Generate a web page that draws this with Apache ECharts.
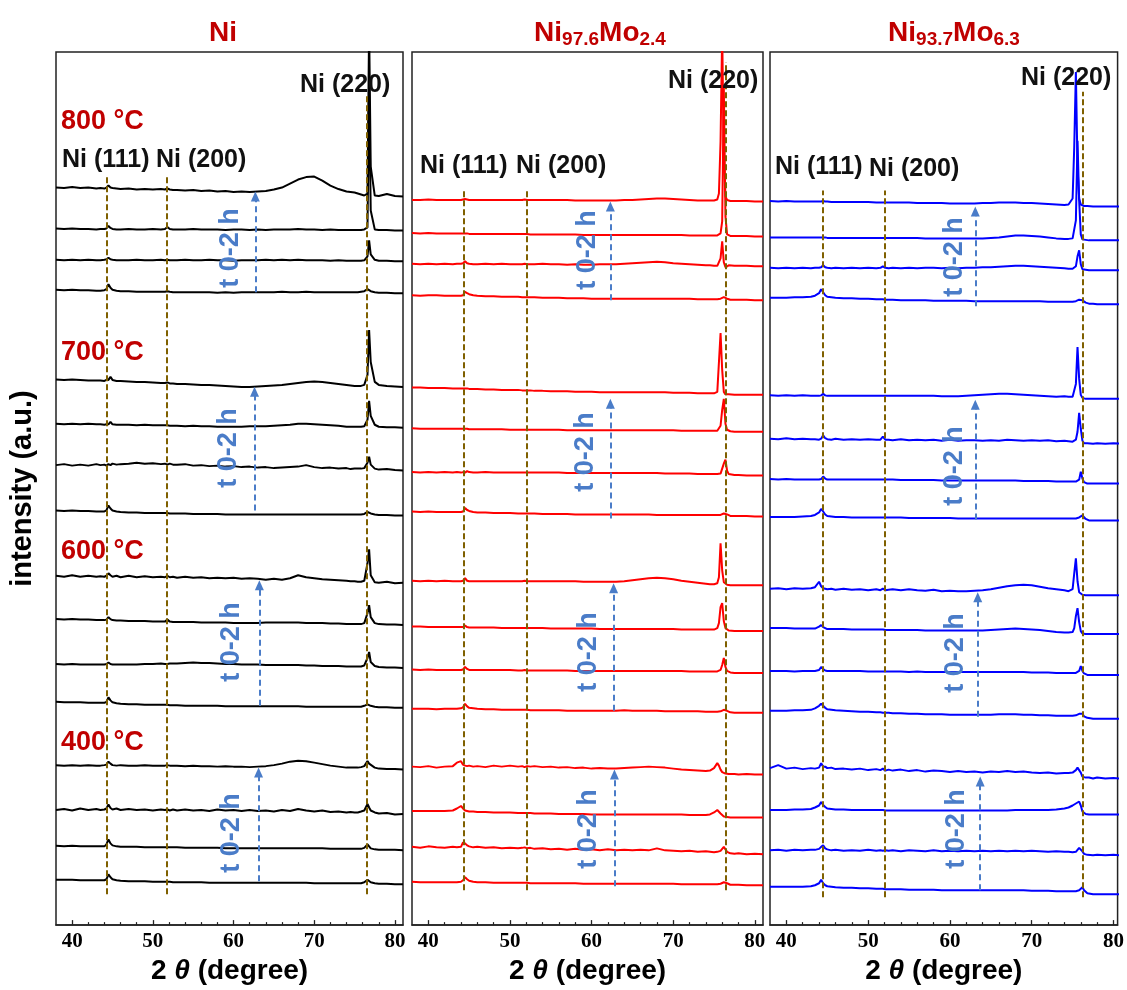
<!DOCTYPE html>
<html><head><meta charset="utf-8">
<script src="https://cdn.jsdelivr.net/npm/echarts@6/dist/echarts.min.js"></script>
<style>html,body{margin:0;padding:0;background:#fff}#c{width:1127px;height:990px}</style>
</head><body><div id="c"></div>
<script>
// ---------------- DATA ----------------
// 2θ sampling grid (degree)
const twoTheta = [38,39,40,41,42,43, 43.5,44,44.25,44.5,44.75,45,45.5, 46,47,48,49,50,51, 51.5,51.8,52.1,52.5, 53,54,55,56,57,58,59,60,61,62, 63,64,65,66,67,68,69,70,71,72,73,74, 74.5,75,75.2,75.4,75.6,75.8,76,76.2,76.4,76.6,76.8,77,77.5, 78,79,80,81];
const tickLabels = [40,50,60,70,80];
const minorTicks = [42,44,46,48,52,54,56,58,62,64,66,68,72,74,76,78];
const temps = ['800 °C','700 °C','600 °C','400 °C'];
const peakNames = ['Ni (111)','Ni (200)','Ni (220)'];

// reference peak positions (2θ) per sample
const refNi = [44.3, 51.7, 76.5];
const refMo24 = [44.3, 52.1, 76.4];
const refMo63 = [44.4, 52.0, 76.3];

// vertical stacking offsets (a.u.), top trace first
const offNi   = [731,697,666,634, 540,499,456,411, 343,301,258,218, 156,111,75,41];
const offMo24 = [726,691,661,627, 532,495,451,410, 341,295,253,213, 151,108,71,40];
const offMo63 = [721,687,657,623, 528,483,443,406, 331,292,251,207, 147,111,70,31];

// intensities (a.u.), each temperature: 4 scans, top (2 h) to bottom (0 h)
const ni_800 = [
[9,8.5,9.5,8.5,9,8, 8.5,8,9,11,9,8.5,8, 7.5,8,7,7.5,7,7.5, 7,8,7,6.5, 6.5,6,6.5,5.5,6,5,5.5,4.5,5,4.5, 5,5.5,7,9,13,17,19.5,20,16,11,7.5,5, 4.5,4,3.5,3,2.5,2,1.5,1,1.5,3,170,30,1, 0.5,2.5,0.5,0],
[2,1.5,2,1.5,1.5,1, 1.5,1.5,2,4.5,2.5,1.5,1, 1,1.5,1,1,1.5,1, 1.5,3.5,1.5,1, 1,1,1.5,1,1,1,0.5,1,1,0.5, 1,0.5,1,1,1,1.5,1,1,0.5,1,0.5,0.5, 0.5,0.5,0.5,0.5,0.5,0.5,0.5,1,1.5,3,140,20,1, 0.5,0.5,0,0],
[1.5,1,1.5,1,1.5,1, 1,1.5,2,3.5,2,1.5,1, 1,1,1.5,1,1,1.5, 1,1.5,1,1, 1,1.5,1,1,1.5,1,1,0.5,1,1, 1,1.5,1,1.5,1,1.5,1,1,1,0.5,1,0.5, 0.5,0.5,0.5,0.5,0.5,0.5,1,1,1.5,5,21,7,1.5, 0.5,0.5,0,0],
[3.5,3,3.5,3,3,2.5, 2.5,3,4,9,5.5,3.5,2.5, 2,2,1.5,1.5,1.5,1.5, 1.5,2,1.5,1, 1,1,1,1,1,0.5,1,0.5,1,1, 1,1,1,1.5,1,1,1.5,1,1,1,1,1, 1,1,1,1,1,1.5,1.5,2,3,4,3.5,2,1, 0.5,0.5,0,0]];
const ni_700 = [
[7.5,7,7.5,7,6.5,6.5, 6.5,6,7,7,10,7,6, 6,5.5,5,5,4.5,4, 4,4.5,3.5,3.5, 3,3,2.5,2,2,1.5,1,0.5,0,0, 0.5,1,1.5,2,3,4,5,5.5,5,4,3,2, 1.5,1,1,1,1,1,1.5,2,3,12,57,25,5, 2,1,0.5,0],
[4,3.5,4,3.5,4,3.5, 3.5,3,3.5,3.5,6,3.5,3, 3,3,2.5,3,2.5,2.5, 2.5,2.5,2,2, 2,1.5,2,1.5,1.5,1,1,1,1,1.5, 1.5,1.5,2,2.5,3,4,4,3.5,3,2.5,2,1, 1,1,1,1,1,1,1,1.5,2,8,27,12,3, 1,0.5,0.5,0],
[5.5,6.5,5,6,5,6.5, 5.5,6,5,6.5,5.5,7,6, 6.5,7,8,7,7.5,6.5, 7,6,7,6, 6,6.5,5,5.5,4.5,5,4,4.5,3.5,4, 3,3.5,2.5,3,3.5,4,5.5,3.5,2.5,3,2,2.5, 1.5,2,1.5,2,1.5,2,2,2.5,4,8,14,6,2, 1,1.5,0.5,0],
[5,4.5,5,4.5,4.5,4, 4,4,5,10,7,5,4, 3.5,3,3,2.5,2.5,2.5, 2.5,2.5,2,2, 2,2,1.5,1.5,1.5,1.5,1,1,1,1, 1,1,1,1,1,1,1,1,1,1,1,1, 1,1,1,1,1,1,1,1.5,2.5,3.5,3,2,1, 0.5,0.5,0,0]];
const ni_600 = [
[7.5,6.5,8,6.5,7.5,6.5, 7,6.5,7.5,10,8,6.5,7.5, 6,7.5,6,7,6,6.5, 6,7.5,6,6.5, 5.5,6.5,5.5,6,5,5.5,5,5.5,4.5,5, 4.5,3.5,4.5,3.5,5,8,6,5,4,3.5,3,2.5, 2,2,1.5,1.5,2,1.5,2,2.5,4,20,34,8,1, 0.5,1.5,0,0.5],
[6,5.5,6,5.5,5.5,5, 5,5,5.5,8,6,5,4.5, 4.5,4,4,4,3.5,3.5, 3.5,5.5,3.5,3, 3,3,3,2.5,2.5,2.5,2.5,2,2,2, 2,2.5,2.5,2.5,2.5,2.5,2,2,2,1.5,1.5,1, 1,1,1,1,1,1,1.5,2,4,12,20,8,2, 1,0.5,0.5,0],
[4,3.5,4,3.5,3.5,3.5, 3.5,3.5,4,5.5,4,3.5,3.5, 3.5,3.5,3.5,4,4,4.5, 4,4,4.5,4.5, 4.5,5,5.5,5,5,4.5,4,4,3.5,3.5, 3.5,3,3,3,3,3,2.5,2.5,2,2,2,1.5, 1.5,1.5,1.5,1.5,1.5,1.5,2,2.5,4,10,16,6,2, 1,0.5,0.5,0],
[6,5.5,5.5,5.5,5,5, 5,5,6,10.5,7.5,5.5,4.5, 4,3.5,3.5,3,3,3, 3,3,2.5,2.5, 2.5,2,2,2,2,2,1.5,1.5,1.5,1.5, 1.5,1.5,1.5,1.5,1.5,1.5,1,1,1,1,1,1, 1,1,1,1,1,1,1.5,2,3,3.5,3,2,1, 0.5,0.5,0,0]];
const ni_400 = [
[4.5,4,4.5,4,4.5,4, 4,4.5,5,8,6,4.5,4, 4.5,4,4,4.5,4,4, 4,4.5,4,4, 4,3.5,4,3.5,3.5,3,3.5,3,3,2.5, 3,3.5,4.5,6,8,9,8.5,7,5.5,4,3,2, 2,2,2,2,2,2.5,3,3.5,5,8.5,6,4,2, 1,0.5,0.5,0],
[4.5,5.5,4,6,4.5,5.5, 4.5,5,6,10,6.5,5,6, 4.5,5.5,4.5,5,4,5, 4.5,5,4,5, 4,5,4,4.5,3.5,5,4,4.5,3.5,4.5, 3.5,4,3,4.5,3.5,5.5,4,3,4,2.5,3,2, 2.5,2,2.5,2,2.5,3,3.5,4,6,10.5,7,4,2, 1,1.5,0,0.5],
[4.5,4,4.5,4,4,4, 4,4,6,11,7,5,4, 3.5,3.5,3.5,3,3,3, 3,3,3,3, 3,2.5,2.5,2.5,2.5,2.5,2,2,2,2, 2,2,2,2,2,2,2,2,2,1.5,1.5,1.5, 1.5,1.5,1.5,1.5,1.5,1.5,2,2.5,4,6,4,2,1, 0.5,0.5,0.5,0],
[4.5,4.5,4.5,4,4,4, 4,4,5,10,7,5,4, 3.5,3,3,3,2.5,2.5, 2.5,2.5,2.5,2, 2,2,2,2,1.5,1.5,1.5,1.5,1.5,1.5, 1.5,1.5,1.5,1.5,1.5,1.5,1.5,1,1,1,1,1, 1,1,1,1,1,1,1.5,2,3,4.5,3,2,1, 0.5,0.5,0,0]];

const mo24_800 = [
[1.5,1.5,2,1.5,1.5,1.5, 1.5,1.5,2,2.5,2,1.5,1.5, 1.5,1.5,1.5,1.5,1.5,1.5, 1.5,2,1.5,1.5, 1.5,1.5,1.5,1.5,1.5,1,1,1,1,1, 1,1.5,1.5,2,2.5,3,3,2.5,2,1.5,1,1, 1,1,1.5,2,8,60,170,40,5,1.5,1,0.5,0.5, 0.5,0.5,0,0],
[3.5,3,3.5,3,3,3, 3,3,3,3,3,2.5,2.5, 2.5,2.5,2.5,2.5,2.5,2.5, 2.5,2.5,2.5,2, 2,2,2,2,2,2,1.5,1.5,1.5,1.5, 1.5,1.5,1.5,1.5,1.5,1.5,1.5,1.5,1.5,1,1,1, 1,1,1,1,1.5,3,15,150,20,2,1,0.5,0.5, 0.5,0.5,0,0],
[2.5,2,2.5,2,2.5,2, 2.5,2.5,3,5,3,2.5,2, 2,2.5,2,2.5,2,2, 2,2.5,2,2, 2,2.5,2,2,1.5,2,1.5,1.5,2,2, 2,2.5,3,3.5,4,4.5,4,3,2.5,2,1.5,1, 1,0.5,0.5,0.5,2,8,25,4,-1,0.5,1,1,0.5, 0.5,0.5,0,0],
[5,4.5,5,5,4.5,4.5, 4.5,4.5,5,8.5,7,6,5, 4.5,4,4,3.5,3.5,3.5, 3,3,3,3, 3,2.5,2.5,2.5,2,2,2,1.5,1.5,1.5, 1.5,1.5,1.5,1.5,1.5,1.5,1.5,1.5,1.5,1.5,1,1, 1,1,1,1,1.5,1.5,2,3,2.5,1.5,1,0.5,0.5, 0.5,0.5,0,0]];
const mo24_700 = [
[7.5,7.5,7,7,7,6.5, 6.5,6.5,6.5,6.5,6.5,6,6, 6,5.5,5.5,5,5,5, 4.5,4.5,4.5,4.5, 4,4,3.5,3.5,3.5,3,3,3,2.5,2.5, 2.5,2.5,2.5,2.5,2.5,2.5,2.5,2,2,2,1.5,1.5, 1.5,1.5,2,3,5,62,25,3,0.5,0.5,0.5,0,0, 0,0,0,0],
[3.5,3,3,3,3,3, 3,3,3,3,3,2.5,2.5, 2.5,2.5,2.5,2.5,2,2, 2,2,2,2, 2,2,2,2,1.5,1.5,1.5,1.5,1.5,1.5, 1.5,1.5,1.5,1.5,1.5,1.5,1.5,1.5,1,1,1,1, 1,1,1,1,2,6,22,33,8,2,1,0.5,0, 0,0,0,0],
[3.5,3,3.5,3,3.5,3, 3.5,3,3.5,3,4.5,3.5,3, 3,3.5,3,3,3,3, 3,3,3,3, 3,3,3,3,2.5,2.5,2.5,2.5,2.5,2.5, 2.5,2.5,2.5,2.5,2.5,2.5,2,2,2,2,1.5,1.5, 1.5,1.5,1.5,1.5,1.5,2,4,12,16,5,1.5,1,0.5, 0.5,0,0,0],
[5,4.5,5,4.5,4.5,4.5, 4.5,4.5,5,8.5,6.5,5.5,4.5, 4,4,3.5,3.5,3.5,3, 3,3,3,3, 3,2.5,2.5,2.5,2.5,2,2,2,2,2, 2,2,2,2,2,1.5,1.5,1.5,1.5,1.5,1.5,1.5, 1.5,1.5,1.5,1.5,1.5,1.5,2,3,3.5,2,1,0.5,0.5, 0.5,0.5,0,0]];
const mo24_600 = [
[4.5,4,4.5,4,4.5,4, 4,4,4.5,7,4.5,4,4, 4,4,4,4,4,4, 4,4.5,4,4, 4,4,4,4,4,4,3.5,3.5,3.5,3.5, 3.5,4,5,6,7,7.5,7,6,4.5,3.5,2.5,1.5, 1,1,1,2,8,42,15,3,1,0.5,0.5,0,0, 0,0,0,0],
[4.5,4.5,4,4,4,4, 4,4,4,5.5,4,3.5,3.5, 3.5,3.5,3.5,3,3,3, 3,3,3,3, 3,3,2.5,2.5,2.5,2.5,2.5,2.5,2,2, 2,2,2,2,2,2,2,2,1.5,1.5,1.5,1.5, 1.5,1.5,2,3,8,24,28,10,3,1,0.5,0,0, 0,0,0,0],
[3.5,3,3.5,3,3,3, 3,3,3.5,6,4,3,3, 3,3,3,3,3,2.5, 2.5,3,2.5,2.5, 2.5,2.5,2.5,2.5,2.5,2,2,2,2,2, 2,2,2,2,2,2,2,2,2,1.5,1.5,1.5, 1.5,1.5,1.5,1.5,2,3,8,15,6,2,1,0.5,0, 0,0,0,0],
[4,4,4,3.5,4,4, 4,4.5,5.5,9,6.5,5,4.5, 4,3.5,3.5,3,3,3, 3,3,3,2.5, 2.5,2.5,2.5,2.5,2,2,2,2,2,2, 2,2.5,2,2,2,2,1.5,1.5,1.5,1.5,1.5,1, 1,1,1,1,1,1.5,2,3,3.5,2,1,0.5,0, 0,0,0,0]];
const mo24_400 = [
[8,7.5,8.5,7,8,8.5, 12,13.5,10,9,8.5,9,8, 8.5,7.5,9,8,9,8, 8.5,7.5,8.5,8, 8.5,7.5,8,7,7.5,6.5,7,6,6.5,6, 6,6.5,7,7.5,8,7.5,7,6,5,4.5,4,3.5, 4,6.5,9,11.5,9,5,2.5,1.5,1,1,0.5,1,0.5, 0,0.5,0,0],
[6.5,6.5,6.5,6.5,6.5,7, 9,11.5,9,7,6.5,6,6, 5.5,5.5,5,5,5,4.5, 4.5,4.5,4.5,4.5, 4,4,4,3.5,3.5,3.5,3.5,3,3,3, 3,3,3,3,3,3,3,3,3,2.5,2.5,2.5, 3,5,6.5,7.5,6.5,4,2,1,0.5,0.5,0,0,0, 0,0,0,0],
[7.5,6.5,8,7,6.5,7.5, 7,7.5,12,11,9,8,7, 7.5,6.5,7,6,6.5,6, 6.5,7,6,6.5, 5.5,6,5,5.5,4.5,5.5,4.5,5,4,5, 4,4.5,4,4.5,4,6,4,3.5,3,3.5,2.5,3, 2.5,2,3,2.5,3,3.5,4.5,7.5,5,2.5,1.5,1,0.5, 1,0,0.5,0],
[3.5,3,3,3,3,3, 3,3.5,5,8,6,4.5,3.5, 3,3,2.5,2.5,2.5,2.5, 2.5,2.5,2.5,2, 2,2,2,2,2,2,1.5,1.5,1.5,1.5, 1.5,1.5,1.5,1.5,1.5,1.5,1.5,1.5,1,1,1,1, 1,1,1,1,1,1.5,2,3,3.5,2,1,0.5,0.5, 0.5,0,0,0]];

const mo63_800 = [
[5.5,5,5.5,5,5,5, 5,5,5,5.5,5,5,4.5, 4.5,4.5,4.5,4.5,4.5,4, 4,4,4,4, 4,4,4,3.5,3.5,3.5,3.5,3,3,3, 3,3.5,3.5,4,4,4,3.5,3.5,3,2.5,2,1.5, 2,8,60,135,40,8,2,1,0.5,0.5,0.5,0,0, 0,0,0,0],
[3,3,3,3,3,3, 3,3,3,3,3,2.5,2.5, 2.5,2.5,2.5,2.5,2.5,2.5, 2.5,2.5,2.5,2.5, 2.5,2.5,2.5,2.5,2,2,2,2,2,2, 2,2,2.5,3,4,5,5,4.5,4,3,2,1.5, 1.5,2,4,20,100,40,6,1,0.5,0.5,0,0,0, 0,0,0,0],
[2.5,2,2.5,2,2.5,2, 2.5,2.5,3,5,3,2.5,2, 2.5,2,2.5,2,2.5,2, 2.5,4,2.5,2, 2.5,2,2.5,2,2.5,2.5,2,2.5,2,2.5, 2.5,3,3,3.5,4,4.5,4.5,4,3.5,3,2.5,2, 1.5,1.5,2,4,14,20,6,1,0.5,0.5,0,0,0, 0,0,0,0],
[6.5,6.5,6.5,7,7,7.5, 8.5,11,15,12,9,7.5,7, 6.5,6,6,5.5,5.5,5, 5,5,4.5,4.5, 4.5,4,4,4,4,3.5,3.5,3.5,3.5,3.5, 3,3,3,3,3,3,3,3,3,2.5,2.5,2.5, 2.5,2.5,2.5,3,3.5,4.5,5.5,4,2.5,1.5,1,0.5,0.5, 0,0,0,0]];
const mo63_700 = [
[3.5,3,3.5,3,3.5,3, 3,3,3.5,5,3.5,3,3, 3,3,3,3,3,3, 3,3,3,3, 3,3,3,3,3,3,2.5,2.5,2.5,3, 3.5,4,4.5,5,5,4.5,4,3.5,3,2.5,2,2.5, 2,2,4,15,52,20,4,1,0,0,0,0,0, 0,0,0,0],
[5,4.5,5.5,4.5,5,4.5, 4.5,4,5,8.5,5.5,4.5,4, 5,4,4.5,4,4.5,4, 4,7,4,4, 3.5,4.5,3.5,4,3.5,4,3,4,3,3.5, 3.5,3,3.5,3,4,3.5,3,3.5,3,3.5,2.5,3, 2.5,2,2.5,4,12,31,15,3,0.5,0,0.5,0,0, 0.5,0,0.5,0],
[4.5,4,4.5,4,4,4, 4,4,4.5,7,5,4,4, 4,4,4,4,4,4, 4,4,4,4, 4,3.5,3.5,3.5,3.5,3.5,3,3,3,3, 3,3,3,3,3,3,2.5,2.5,2.5,2.5,2,2, 2,2,2,2,2.5,4,12,5,1.5,0.5,0,0,0, 0,0,0,0],
[3.5,3.5,3.5,3.5,4,4.5, 5.5,8,11.5,9,6,4.5,4, 3.5,3.5,3,3,3,3, 3,3,3,3, 3,3,2.5,2.5,2.5,2.5,2.5,2.5,2,2, 2,2,2,2,2,2,2,2,2,2,2,2, 2,2,2,2,2.5,3,4,5,3,1.5,0.5,0,0, 0,0,0,0]];
const mo63_600 = [
[6.5,7,6,7,6.5,7, 8,13.5,9,7,6.5,6,6.5, 5.5,6.5,5.5,6,5,6, 5,6.5,5,5.5, 6,5,6,5,4.5,5.5,4,4.5,4,4, 4.5,5,6,7.5,9,10,10.5,10,8.5,7,6,5, 4,6,22,37,14,3,1,0.5,0,0,0,0,0, 0,0,0,0],
[6,6,6,5.5,5.5,5.5, 5.5,7.5,9,7,6,5,5, 5,5,4.5,4.5,4.5,4.5, 4.5,4.5,4,4, 4,4,4,4,3.5,3.5,3.5,3.5,3.5,3.5, 3.5,3.5,4,4.5,5,5.5,5,4.5,4,3,2,1.5, 1.5,2,6,18,26,12,3,0.5,0,0,0,0,0, 0,0,0,0],
[4,4,4,3.5,4,4, 4,5,8,6,4.5,4,4, 4,4,4,4,3.5,3.5, 3.5,3.5,3.5,3.5, 3.5,3.5,3,3.5,3,3,3,3,3,3, 3,3,3,3,3,3,3,2.5,2.5,2.5,2,2, 2,2,2,2,2.5,4,9,4,1.5,0.5,0,0,0, 0,0,0,0],
[8,8,8,8.5,8.5,9, 10.5,13,15,13,11,9.5,9, 8.5,8,7.5,7,7,6.5, 6.5,6,6,6, 5.5,5.5,5,5,4.5,4.5,4.5,4,4,4, 4,4,4,4.5,4.5,4.5,4,4,3.5,3.5,3,3, 3,3,3,3.5,4,5,7,5,2.5,1.5,1,0.5,0, 0,0,0,0]];
const mo63_400 = [
[10.5,13.5,10,11,9.5,10.5, 10,11,15.5,12,12,10.5,11, 9.5,10,9,10,8.5,9.5, 8.5,10,8,9, 8,9,7.5,8.5,7,8,7.5,6.5,7.5,6.5, 7,6,7,6.5,7.5,6.5,7,6,5.5,6,5,5.5, 5.5,6,7,8.5,11,13,6,2,1.5,1,0.5,1,0, 1,0,0.5,0],
[4.5,4.5,4.5,5,5,5.5, 7,9,12.5,9.5,7.5,6,5.5, 5,5,4.5,4.5,4.5,4.5, 4.5,4.5,4,4, 4,4,4,4,4,4,4,4,4,4, 4,4,4,4,4,4.5,4.5,4.5,4.5,4.5,5,6, 7,9,10,11,12.5,13,9,3,1,0.5,0,0,0, 0,0,0,0],
[5,5.5,4.5,5.5,5,5.5, 5.5,6.5,8.5,10,7,6,5, 5.5,4.5,5,4.5,5.5,4.5, 5,4.5,5,4.5, 5,4,5,4.5,4,5,4,4.5,4,4.5, 4,4.5,4,4.5,4,4.5,4,4.5,4,3.5,4,3.5, 3.5,3,3.5,3.5,4,7.5,9.5,4,1.5,1,0.5,0.5,0, 0.5,0,0.5,0],
[7.5,7.5,7.5,7.5,7.5,8, 9,11,14.5,11,9,8,7.5, 7,6.5,6.5,6,6,5.5, 5.5,5.5,5,5, 5,5,4.5,4.5,4.5,4.5,4,4,4,4, 4,4,4,4,4,4,4,3.5,3.5,3.5,3,3, 3,3,3,3,3.5,4,5.5,7,4,2,1,0.5,0, 0,0,0,0]];

// "t 0-2 h" arrows: 2θ position and [start, end] level for each temperature group
const arrowNi   = [62.7, 62.6, 63.2, 63.1];
const arrowMo24 = [62.3, 62.3, 62.7, 62.8];
const arrowMo63 = [63.1, 63.1, 63.4, 63.7];
const arrowSpanNi   = [[635,731],[416,535],[220,341],[44,153]];
const arrowSpanMo24 = [[627,721],[408,523],[215,338],[39,151]];
const arrowSpanMo63 = [[621,716],[407,522],[209,329],[35,144]];

// ---------------- LAYOUT / STYLE ----------------
const SANS = "'Liberation Sans', Arial, sans-serif";
const SERIF = "'Liberation Serif', 'Times New Roman', serif";
const DARKRED = '#C00000';
const ARROWBLUE = '#4A7CC8';
const REFCOL = '#7F6000';
const grids = [
  {left: 56, width: 347, xmax: 81},
  {left: 412, width: 351, xmax: 81},
  {left: 770, width: 349, xmax: 80.5}
];
const GTOP = 52, GH = 876;
const refTops = [[753,753,833],[739,739,866],[737,737,836]];
const refBottoms = [31,35,28];

const panels = [
  {traces: ni_800.concat(ni_700, ni_600, ni_400), off: offNi, ref: refNi, color: '#000000', ax: arrowNi, as: arrowSpanNi},
  {traces: mo24_800.concat(mo24_700, mo24_600, mo24_400), off: offMo24, ref: refMo24, color: '#FF0000', ax: arrowMo24, as: arrowSpanMo24},
  {traces: mo63_800.concat(mo63_700, mo63_600, mo63_400), off: offMo63, ref: refMo63, color: '#0000FF', ax: arrowMo63, as: arrowSpanMo63}
];

const errs = [];
const series = [];
panels.forEach((p, pi) => {
  p.traces.forEach((tr, ti) => {
    if (tr.length !== twoTheta.length) errs.push('P' + pi + 'T' + ti + ':' + tr.length);
    series.push({
      type: 'line', xAxisIndex: pi, yAxisIndex: pi, silent: true, animation: false,
      showSymbol: false, symbol: 'none', clip: true, z: 3,
      lineStyle: {color: p.color, width: 2},
      data: twoTheta.map((x, k) => [x, tr[k] + p.off[ti]])
    });
  });
  series.push({
    type: 'line', xAxisIndex: pi, yAxisIndex: pi, silent: true, animation: false, data: [], z: 4,
    markLine: {
      silent: true, animation: false, symbol: ['none', 'none'], label: {show: false},
      lineStyle: {color: REFCOL, width: 2, type: [6, 3]},
      emphasis: {disabled: true},
      data: p.ref.map((x, k) => [{coord: [x, refBottoms[pi]]}, {coord: [x, refTops[pi][k]]}])
    }
  });
  series.push({
    type: 'line', xAxisIndex: pi, yAxisIndex: pi, silent: true, animation: false, data: [], z: 5,
    markLine: {
      silent: true, animation: false, symbol: ['none', 'triangle'], symbolSize: [9, 10], label: {show: false},
      lineStyle: {color: ARROWBLUE, width: 2, type: [6, 4]},
      emphasis: {disabled: true},
      data: p.ax.map((x, k) => [{coord: [x, p.as[k][0]]}, {coord: [x, p.as[k][1]]}])
    }
  });
});

const xAxes = [], yAxes = [], gridOpts = [];
grids.forEach((g, i) => {
  gridOpts.push({left: g.left, top: GTOP, width: g.width, height: GH, show: true,
    borderColor: '#222', borderWidth: 1.5, backgroundColor: 'transparent', containLabel: false});
  xAxes.push({
    type: 'value', gridIndex: i, min: 38, max: g.xmax, position: 'bottom',
    name: '2 {i|θ} (degree)', nameLocation: 'middle', nameGap: 28,
    nameTextStyle: {fontFamily: SANS, fontWeight: 'bold', fontSize: 28, color: '#000',
      rich: {i: {fontFamily: SANS, fontWeight: 'bold', fontStyle: 'italic', fontSize: 28, color: '#000'}}},
    axisLine: {show: true, lineStyle: {color: '#222', width: 1.5}},
    axisTick: {show: true, inside: true, length: 5, customValues: tickLabels, lineStyle: {color: '#222', width: 1.3}},
    axisLabel: {show: true, customValues: tickLabels, margin: 6, fontFamily: SERIF, fontWeight: 'bold', fontSize: 21, color: '#000'},
    splitLine: {show: false}
  });
  yAxes.push({
    type: 'value', gridIndex: i, min: 0, max: GH,
    name: i === 0 ? 'intensity (a.u.)' : '', nameLocation: 'middle', nameGap: 19, nameRotate: 90,
    nameTextStyle: {fontFamily: SANS, fontWeight: 'bold', fontSize: 29, color: '#000'},
    axisLine: {show: false}, axisTick: {show: false}, axisLabel: {show: false}, splitLine: {show: false}
  });
});
grids.forEach((g, i) => {
  xAxes.push({
    type: 'value', gridIndex: i, min: 38, max: g.xmax, position: 'bottom',
    axisLine: {show: false},
    axisTick: {show: true, inside: true, length: 3, customValues: minorTicks, lineStyle: {color: '#222', width: 1.2}},
    axisLabel: {show: false}, splitLine: {show: false}
  });
});

// ---------------- TEXT ----------------
const graphics = [];
function txt(x, y, text, size, fill, align, extra) {
  const el = {type: 'text', x: x, y: y, silent: true, z: 20,
    style: Object.assign({text: text, fill: fill, fontFamily: SANS, fontWeight: 'bold', fontSize: size,
      align: align || 'left', verticalAlign: 'middle'}, extra && extra.style || {})};
  if (extra && extra.rotation) el.rotation = extra.rotation;
  graphics.push(el);
}
txt(223, 33, 'Ni', 28, DARKRED, 'center');
const subRich = {
  a: {fontFamily: SANS, fontWeight: 'bold', fontSize: 28, fill: DARKRED},
  s: {fontFamily: SANS, fontWeight: 'bold', fontSize: 19, fill: DARKRED, padding: [14, 0, 0, 0]}
};
txt(600, 33, '{a|Ni}{s|97.6}{a|Mo}{s|2.4}', 28, DARKRED, 'center', {style: {rich: subRich}});
txt(954, 33, '{a|Ni}{s|93.7}{a|Mo}{s|6.3}', 28, DARKRED, 'center', {style: {rich: subRich}});
[122, 353, 552, 743].forEach((y, k) => txt(61, y, temps[k], 27, DARKRED, 'left'));
const peakLabelPos = [
  [[62, 160], [156, 160], [300, 85]],
  [[420, 166], [516, 166], [668, 81]],
  [[775, 167], [869, 169], [1021, 78]]
];
peakLabelPos.forEach(pp => pp.forEach((xy, k) => txt(xy[0], xy[1], peakNames[k], 25, '#111', 'left')));
const tPos = [
  [[231, 248], [229, 448], [232, 642], [232, 833]],
  [[588, 250], [586, 452], [589, 652], [589, 829]],
  [[955, 257], [955, 466], [956, 653], [957, 829]]
];
tPos.forEach(pp => pp.forEach(xy => txt(xy[0], xy[1], 't 0-2 h', 27, ARROWBLUE, 'center', {rotation: Math.PI / 2})));
if (errs.length) txt(300, 500, 'LEN ERR ' + errs.join(' '), 20, '#f0f', 'left');

const chart = echarts.init(document.getElementById('c'), null, {renderer: 'canvas'});
chart.setOption({
  animation: false,
  backgroundColor: '#ffffff',
  grid: gridOpts,
  xAxis: xAxes,
  yAxis: yAxes,
  series: series,
  graphic: graphics
});
</script>
</body></html>
